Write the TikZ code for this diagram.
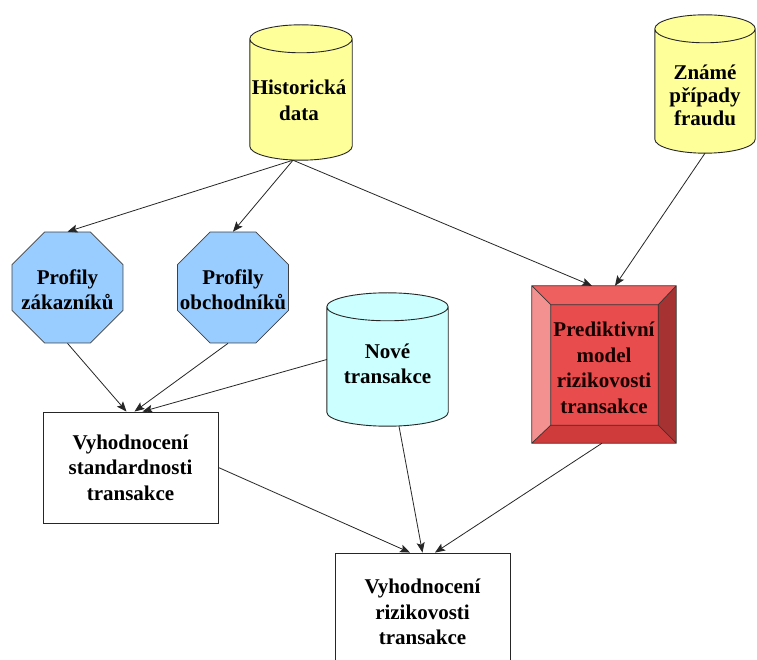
\documentclass[tikz,border=0pt]{standalone}
\usepackage{fontspec}
\setmainfont{Liberation Serif}
\usetikzlibrary{shapes.geometric,arrows.meta,calc}

\definecolor{drumyellow}{HTML}{FFFF99}
\definecolor{drumcyan}{HTML}{CCFFFF}
\definecolor{octblue}{HTML}{99CCFF}
\definecolor{bevfront}{HTML}{E84C4C}
\definecolor{bevtop}{HTML}{EE5F5F}
\definecolor{bevleft}{HTML}{F39090}
\definecolor{bevright}{HTML}{A63232}
\definecolor{bevbottom}{HTML}{CF3B3B}

\tikzset{
  lbl/.style={font=\fontsize{21}{25.5}\selectfont\bfseries, align=center, inner sep=0pt},
  outline/.style={draw=black!85, line width=0.9pt},
  holder/.style={rectangle, inner sep=0pt, minimum width=#1},
  octo/.style={regular polygon, regular polygon sides=8, minimum size=120pt,
    inner sep=0pt, fill=octblue, draw=black!75, line width=0.8pt},
  procbox/.style={rectangle, draw=black!85, line width=0.9pt, fill=white,
    minimum width=175pt, inner sep=0pt},
  flow/.style={draw=black!85, line width=0.8pt,
    -{Stealth[length=10pt,width=8pt,inset=2pt]}},
}

% upright drum (data store) filling the box of the given node
\newcommand\drum[2]{%
  \filldraw[fill=#2, outline] let \p1=(#1.north west), \p2=(#1.south east),
      \n1={(\x2-\x1)/2} in
    (\x1,\y1-14pt) -- (\x1,\y2+14pt)
      arc[start angle=180, end angle=360, x radius=\n1, y radius=14pt]
      -- (\x2,\y1-14pt)
      arc[start angle=0, end angle=180, x radius=\n1, y radius=14pt] -- cycle
    (\x1,\y1-14pt) arc[start angle=180, end angle=360, x radius=\n1, y radius=14pt];
}

\begin{document}
\begin{tikzpicture}[x=1pt,y=1pt]
\fill[white] (0,0) rectangle (757,659);
\useasboundingbox (0,0) rectangle (757,659);

% data stores
\node[holder=102pt, minimum height=135pt] (hist) at (301,566.5) {};
\drum{hist}{drumyellow}
\node[lbl] (hist-t) at (299,558.5) {Historická\\data};

\node[holder=100pt, minimum height=138pt] (znam) at (705,575) {};
\drum{znam}{drumyellow}
\node[lbl, font=\fontsize{21}{23}\selectfont\bfseries] (znam-t) at (705,564) {Známé\\případy\\fraudu};

\node[holder=121pt, minimum height=133pt] (nove) at (387.5,299.5) {};
\drum{nove}{drumcyan}
\node[lbl] (nove-t) at (387.5,295) {Nové\\transakce};

% profiles
\node[octo] (zak) at (67.5,371.5) {};
\node[lbl] (zak-t) at (67.5,369.5) {Profily\\zákazníků};
\node[octo] (obch) at (233,371.5) {};
\node[lbl] (obch-t) at (233,369.5) {Profily\\obchodníků};

% bevelled model block
\node[holder=144pt, minimum height=157pt] (pred) at (604,294.5) {};
\coordinate (iNW) at ($(pred.north west)+(19,-19)$);
\coordinate (iNE) at ($(pred.north east)+(-18,-19)$);
\coordinate (iSW) at ($(pred.south west)+(19,18)$);
\coordinate (iSE) at ($(pred.south east)+(-18,18)$);
\fill[bevtop] (pred.north west) -- (pred.north east) -- (iNE) -- (iNW) -- cycle;
\fill[bevleft] (pred.north west) -- (iNW) -- (iSW) -- (pred.south west) -- cycle;
\fill[bevright] (pred.north east) -- (pred.south east) -- (iSE) -- (iNE) -- cycle;
\fill[bevbottom] (pred.south west) -- (iSW) -- (iSE) -- (pred.south east) -- cycle;
\fill[bevfront] (iNW) rectangle (iSE);
\draw[draw=black!80, line width=0.7pt]
  (pred.north west) rectangle (pred.south east)
  (iNW) rectangle (iSE)
  (pred.north west) -- (iNW) (pred.north east) -- (iNE)
  (pred.south west) -- (iSW) (pred.south east) -- (iSE);
\node[lbl, text=black!90!red] (pred-t) at (604,291)
  {Prediktivní\\model\\rizikovosti\\transakce};

% evaluation steps
\node[procbox, lbl, minimum height=111pt, draw=black!85] (std) at (130.5,191.5)
  {Vyhodnocení\\standardnosti\\transakce};
\node[procbox, lbl, minimum height=118pt, draw=black!85] (risk) at (422.5,47)
  {Vyhodnocení\\rizikovosti\\transakce};

% connectors
\draw[flow] ($(hist.south)+(-8,0)$) -- (zak.north);
\draw[flow] ($(hist.south)+(-8,0)$) -- (obch.north);
\draw[flow] ($(hist.south)+(-8,0)$) -- ($(pred.north)+(-12,0)$);
\draw[flow] (znam.south) -- ($(pred.north)+(11,0)$);
\draw[flow] (zak.south) -- ($(std.north)+(-4,0)$);
\draw[flow] ($(obch.south)+(-5,0)$) -- ($(std.north)+(4,0)$);
\draw[flow] (nove.west) -- ($(std.north)+(12,0)$);
\draw[flow] (std.east) -- ($(risk.north)+(-12.5,0)$);
\draw[flow] ($(nove.south)+(11.5,0)$) -- (risk.north);
\draw[flow] ($(pred.south)+(-2,0)$) -- ($(risk.north)+(12.5,0)$);
\end{tikzpicture}
\end{document}
